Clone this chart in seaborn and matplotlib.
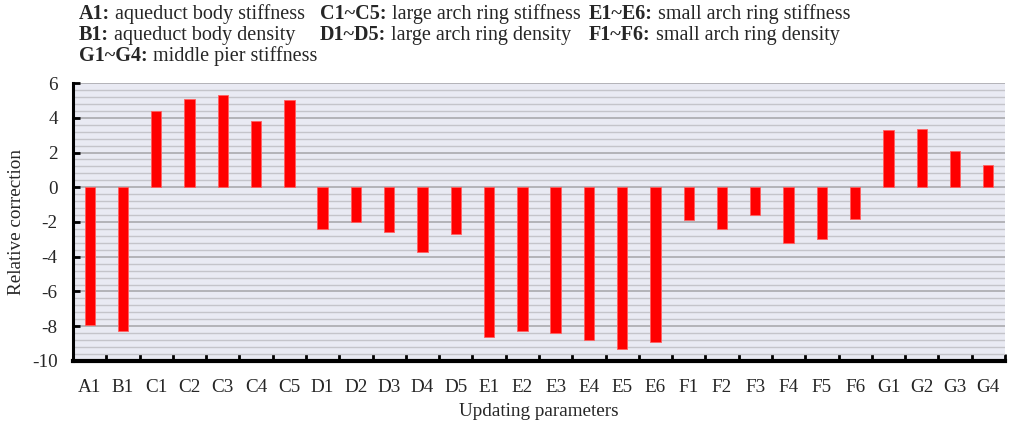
import pandas as pd
import seaborn as sns
import matplotlib.pyplot as plt
from matplotlib.ticker import MultipleLocator, FixedLocator

# parameters and their relative correction
params = ["A1", "B1", "C1", "C2", "C3", "C4", "C5", "D1", "D2", "D3", "D4", "D5",
          "E1", "E2", "E3", "E4", "E5", "E6", "F1", "F2", "F3", "F4", "F5", "F6",
          "G1", "G2", "G3", "G4"]
values = [-7.95, -8.3, 4.4, 5.1, 5.3, 3.8, 5.0, -2.4, -2.0, -2.6, -3.7, -2.7,
          -8.6, -8.3, -8.4, -8.8, -9.3, -8.9, -1.9, -2.4, -1.6, -3.2, -3.0, -1.8,
          3.3, 3.35, 2.1, 1.3]

# legend-like description at the top
desc_rows = [
    [("A1:", "aqueduct body stiffness"), ("C1~C5:", "large arch ring stiffness"), ("E1~E6:", "small arch ring stiffness")],
    [("B1:", "aqueduct body density"), ("D1~D5:", "large arch ring density"), ("F1~F6:", "small arch ring density")],
    [("G1~G4:", "middle pier stiffness")],
]

sns.set_style("darkgrid")
plt.rcParams['font.family'] = ['Liberation Serif', 'DejaVu Serif']
plt.rcParams['axes.unicode_minus'] = False
fs = 13.8
fs_head = 14.5

df = pd.DataFrame({"param": params, "value": values})

fig = plt.figure(figsize=(10.1, 4.25), dpi=100)
ax = fig.add_axes([0.0723, 0.1506, 0.9227, 0.6541])
ax.set_facecolor("#E9EAF3")

sns.barplot(data=df, x="param", y="value", color="#FF0000", width=0.31,
            saturation=1, ax=ax, zorder=3)
for p in ax.patches:
    p.set_edgecolor("#FF6060")
    p.set_linewidth(0.6)

ax.set_xlim(-0.5, len(params) - 0.5)
ax.set_ylim(-10, 6)
ax.yaxis.set_major_locator(MultipleLocator(2))
ax.yaxis.set_minor_locator(MultipleLocator(0.4))
ax.xaxis.set_minor_locator(FixedLocator([i + 0.5 for i in range(len(params))]))

# grid: horizontal only
ax.grid(False)
ax.grid(axis="y", which="major", color="#A4A4A8", linewidth=1.1, zorder=0)
ax.grid(axis="y", which="minor", color="#C4C4CA", linewidth=1.0, zorder=0)
ax.set_axisbelow(True)

for s in ["top", "right"]:
    ax.spines[s].set_visible(False)
ax.spines["left"].set_color("black")
ax.spines["left"].set_linewidth(2.2)
ax.spines["bottom"].set_color("black")
ax.spines["bottom"].set_linewidth(3)

ax.tick_params(axis="y", which="major", direction="in", length=5, width=2,
               color="black", labelsize=fs, pad=11, left=True)
ax.tick_params(axis="y", which="minor", left=False)
ax.tick_params(axis="x", which="major", length=0, labelsize=fs, pad=13)
ax.tick_params(axis="x", which="minor", direction="in", length=5, width=2,
               color="black", bottom=True)
ax.set_yticklabels([str(int(t)) for t in ax.get_yticks()])

ax.set_xlabel("Updating parameters", fontsize=fs, labelpad=5)
ax.set_ylabel("Relative correction", fontsize=fs, labelpad=5)

# description text with bold prefixes
renderer = fig.canvas.get_renderer()
col_x = [79, 320, 589]
row_base = [19, 40, 61]
for r, row in enumerate(desc_rows):
    for c, (key, txt) in enumerate(row):
        x = col_x[c] / 1010
        y = 1 - row_base[r] / 425
        t = fig.text(x, y, key, fontsize=fs_head, fontweight="bold", va="baseline", ha="left")
        bb = t.get_window_extent(renderer)
        fig.text((bb.x1 + 5) / 1010, y, txt, fontsize=fs_head, va="baseline", ha="left")

plt.savefig("out.png", dpi=100)
